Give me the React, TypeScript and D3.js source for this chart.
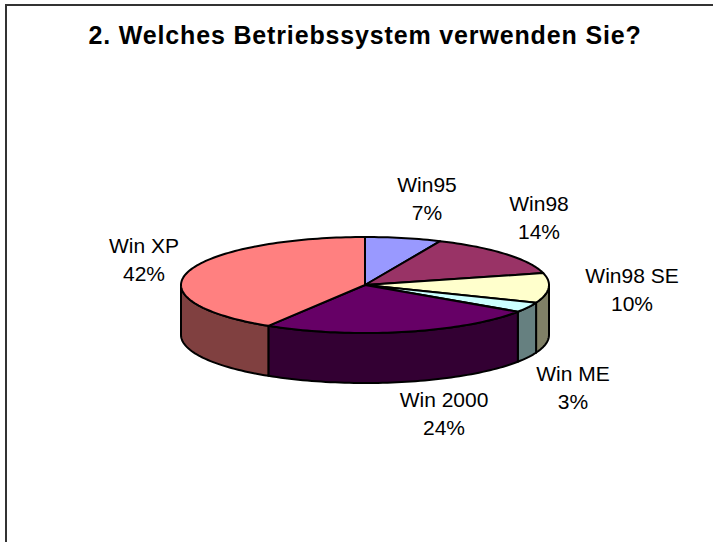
import React from "react";
import * as d3 from "d3";

const title = "2. Welches Betriebssystem verwenden Sie?";
const categories = ["Win95", "Win98", "Win98 SE", "Win ME", "Win 2000", "Win XP"];
const percentLabels = ["7%", "14%", "10%", "3%", "24%", "42%"];
const shares = [6.7, 14.3, 10, 3.4, 24.4, 41.2];
const topColors = ["#9999FF", "#993366", "#FFFFCC", "#CCFFFF", "#660066", "#FF8080"];
const sideColors = ["#4D4D80", "#4D1A33", "#808066", "#668080", "#330033", "#804040"];
const labelAnchors = [[427, 192], [539, 211], [632, 283], [573, 381], [444, 407], [144, 253]];

const W = 713, H = 542;
const cx = 365, cy = 285, rx = 184, ry = 48, depth = 50;

const pie = d3.pie<number>().sort(null).value((d) => d);
const arcs = pie(shares);
const sx = d3.scaleLinear().domain([-1, 1]).range([cx - rx, cx + rx]);
const sy = d3.scaleLinear().domain([-1, 1]).range([cy - ry, cy + ry]);
const pt = (a: number, dy = 0): [number, number] => [sx(Math.sin(a)), sy(-Math.cos(a)) + dy];
const line = d3.line();

const sample = (a0: number, a1: number, dy = 0) => {
  const n = Math.max(2, Math.ceil(((a1 - a0) / (2 * Math.PI)) * 240));
  return d3.range(n + 1).map((i) => pt(a0 + ((a1 - a0) * i) / n, dy));
};
const topPath = (a0: number, a1: number) => line([[cx, cy], ...sample(a0, a1)]) + "Z";
const sidePath = (a0: number, a1: number) => {
  // only the front half of the rim (angles PI/2 .. 3PI/2) is visible
  const s = Math.max(a0, Math.PI / 2), e = Math.min(a1, (3 * Math.PI) / 2);
  if (e <= s) return null;
  return line([...sample(s, e), ...sample(s, e, depth).reverse()]) + "Z";
};

export default function App() {
  return (
    <svg width={W} height={H} style={{ position: "absolute", left: 0, top: 0, background: "#fff" }}
      fontFamily="'Liberation Sans', Arial, sans-serif">
      <path d={`M6 ${H}V5H${W}`} fill="none" stroke="#333" strokeWidth={2} />
      <text x={365} y={44} textAnchor="middle" fontSize={25} fontWeight="bold" letterSpacing={0.85} fill="#000">{title}</text>
      {arcs.map((a, i) => {
        const d = sidePath(a.startAngle, a.endAngle);
        return d ? <path key={i} d={d} fill={sideColors[i]} stroke="#000" strokeWidth={2} strokeLinejoin="round" /> : null;
      })}
      {arcs.map((a, i) => (
        <path key={i} d={topPath(a.startAngle, a.endAngle)} fill={topColors[i]} stroke="#000" strokeWidth={2} strokeLinejoin="round" />
      ))}
      {categories.map((c, i) => (
        <text key={c} textAnchor="middle" fontSize={21} fill="#000">
          <tspan x={labelAnchors[i][0]} y={labelAnchors[i][1]}>{c}</tspan>
          <tspan x={labelAnchors[i][0]} y={labelAnchors[i][1] + 28}>{percentLabels[i]}</tspan>
        </text>
      ))}
    </svg>
  );
}
